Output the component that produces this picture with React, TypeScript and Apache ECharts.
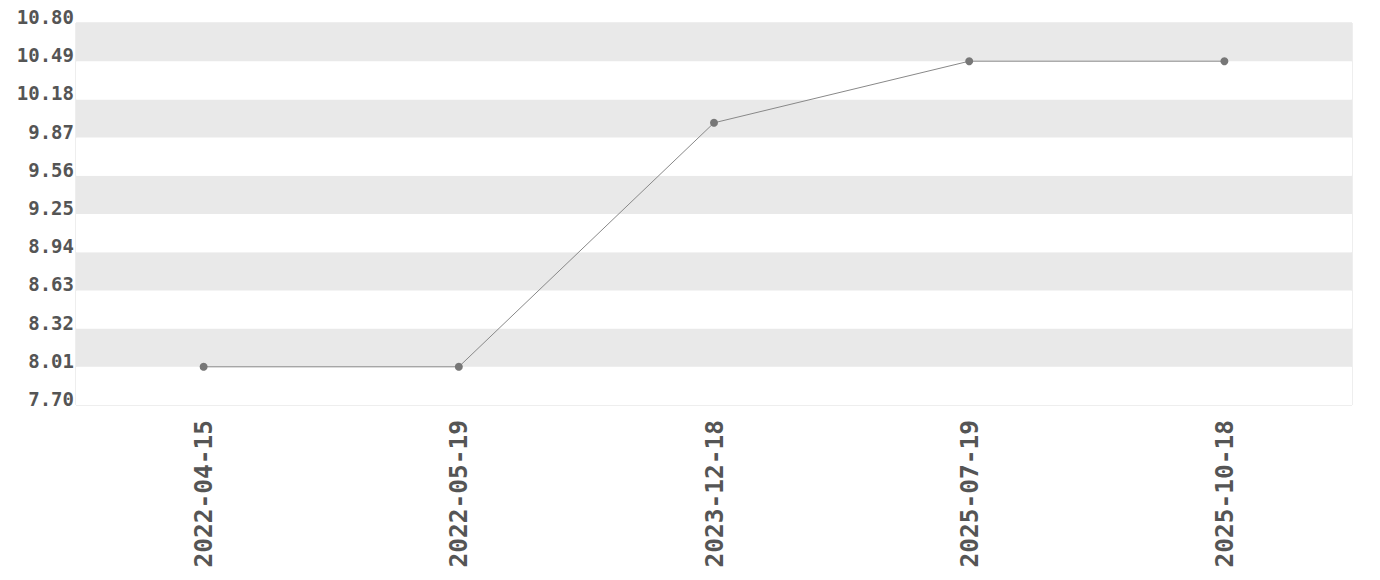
import React, { useEffect, useRef } from "react";
import * as echarts from "echarts";

const dates = ["2022-04-15", "2022-05-19", "2023-12-18", "2025-07-19", "2025-10-18"];
const values = [8.01, 8.01, 9.99, 10.49, 10.49];
const yMin = 7.7;
const yMax = 10.8;
const yStep = 0.31;

export default function App() {
  const ref = useRef<HTMLDivElement>(null);
  useEffect(() => {
    if (!ref.current) return;
    const chart = echarts.init(ref.current, undefined, { renderer: "svg" });
    const font = "'DejaVu Sans Mono', monospace";
    chart.setOption({
      animation: false,
      backgroundColor: "#ffffff",
      grid: {
        left: 76,
        right: 28,
        top: 23,
        bottom: 175,
        show: true,
        borderColor: "#dddddd",
        borderWidth: 1,
        backgroundColor: "transparent",
      },
      xAxis: {
        type: "category",
        data: dates,
        boundaryGap: true,
        axisLine: { show: false },
        axisTick: { show: false },
        splitLine: { show: false },
        axisLabel: {
          rotate: 90,
          margin: 15,
          fontFamily: font,
          fontWeight: "bold",
          fontSize: 24.5,
          color: "#555555",
        },
      },
      yAxis: {
        type: "value",
        min: 0,
        max: yMax - yMin,
        interval: yStep,
        axisLine: { show: false },
        axisTick: { show: false },
        splitLine: { show: false },
        splitArea: { show: true, areaStyle: { color: ["#ffffff", "#e9e9e9"] } },
        axisLabel: {
          margin: 2,
          fontFamily: font,
          fontWeight: "bold",
          fontSize: 19,
          color: "#555555",
          verticalAlign: "bottom",
          lineHeight: 12,
          formatter: (v: number) => (v + yMin).toFixed(2),
        },
      },
      series: [
        {
          type: "line",
          data: values.map((v) => +(v - yMin).toFixed(4)),
          symbol: "circle",
          symbolSize: 8,
          lineStyle: { color: "#888888", width: 1 },
          itemStyle: { color: "#777777" },
        },
      ],
    });
    return () => chart.dispose();
  }, []);
  return (
    <div
      ref={ref}
      style={{ position: "absolute", left: 0, top: 0, width: 1380, height: 580 }}
    />
  );
}
